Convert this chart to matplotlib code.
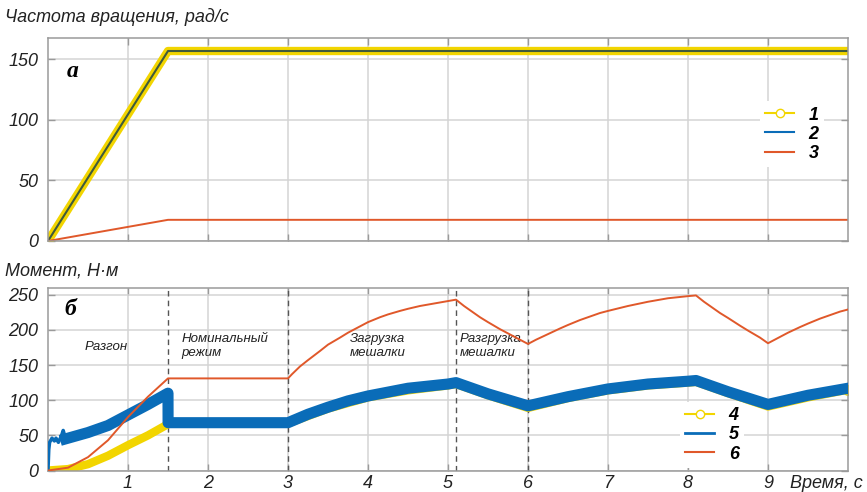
import numpy as np
import matplotlib
matplotlib.use('Agg')
import matplotlib.pyplot as plt
from matplotlib.lines import Line2D

plt.rcParams['font.family'] = ['Liberation Sans', 'DejaVu Sans']

# --- data ---
# top: speed, rad/s
t_speed = [0, 1.5, 10]
speed_1 = [0, 157, 157]
speed_2 = [0, 157, 157]
speed_3 = [0, 17.5, 17.5]

# bottom: torque, N*m
t_torque4 = [0, 0.25, 0.5, 0.75, 1.0, 1.25, 1.5, 1.501, 3.0, 3.5, 4.0, 4.5, 5.0, 5.1,
             5.5, 6.0, 6.5, 7.0, 7.5, 8.0, 8.1, 8.5, 9.0, 9.5, 10]
torque_4 = [0, 2, 9, 21, 36, 50, 66, 67, 67, 88, 104, 114, 121, 123,
            107, 89, 103, 114, 121, 125, 126, 110, 91, 104, 115]

t_torque5_start = [0, 0.01, 0.02, 0.05, 0.08, 0.1, 0.13, 0.17, 0.19, 0.22]
torque_5_start = [0, 30, 40, 46, 42, 46, 40, 50, 57, 45]
t_torque5 = [0.22, 0.5, 0.75, 1.0, 1.25, 1.5, 1.501, 2.0, 2.5, 3.0, 3.25, 3.5, 3.75, 4.0,
             4.5, 5.0, 5.1, 5.5, 6.0, 6.5, 7.0, 7.5, 8.0, 8.1, 8.5, 9.0, 9.5, 10]
torque_5 = [45, 54, 64, 79, 94, 110, 68, 68, 68, 68, 80, 90, 99, 106,
            117, 123, 125, 109, 92, 105, 116, 123, 127, 128, 112, 94, 107, 117]

t_torque6 = [0, 0.25, 0.5, 0.75, 1.0, 1.25, 1.5, 3.0, 3.05, 3.15, 3.25, 3.4, 3.5, 3.65,
             3.75, 3.9, 4.0, 4.15, 4.25, 4.4, 4.5, 4.65, 4.75, 4.9, 5.0, 5.1,
             5.2, 5.3, 5.4, 5.5, 5.65, 5.75, 5.9, 6.0,
             6.1, 6.25, 6.4, 6.5, 6.65, 6.75, 6.9, 7.0, 7.25, 7.5, 7.75, 8.0, 8.1,
             8.2, 8.3, 8.4, 8.5, 8.65, 8.75, 8.9, 9.0,
             9.1, 9.25, 9.4, 9.5, 9.65, 9.75, 9.9, 10]
torque_6 = [0, 4, 19, 43, 76, 105, 131, 131, 137, 148, 157, 170, 179, 189,
            196, 205, 211, 218, 222, 227, 230, 234, 236, 239, 241, 243,
            234, 226, 218, 211, 201, 195, 186, 180,
            186, 194, 202, 207, 214, 218, 224, 227, 234, 240, 245, 248, 249,
            240, 232, 224, 217, 206, 199, 189, 181,
            187, 196, 204, 209, 216, 220, 226, 229]

stage_bounds = [1.5, 3.0, 5.1, 6.0]
stage_names = ['Разгон', 'Номинальный\nрежим', 'Загрузка\nмешалки', 'Разгрузка\nмешалки']
stage_pos = [(0.46, 176), (1.67, 177), (3.77, 177), (5.15, 177)]

xticks = [1, 2, 3, 4, 5, 6, 7, 8, 9]

c_yel = '#f2d500'
c_blue = '#0a6cb8'
c_dark = '#3f5a3c'
c_org = '#e0582a'
c_grid = '#d4d4d4'
c_spine = '#9a9a9a'

fig = plt.figure(figsize=(8.67, 4.92), dpi=100)
ax1 = fig.add_axes([48/867, 1-241/492, 800/867, (241-37.7)/492])
ax2 = fig.add_axes([48/867, 1-470.5/492, 800/867, (470.5-287.7)/492])

for ax in (ax1, ax2):
    ax.set_xlim(0, 10)
    ax.set_xticks(xticks)
    ax.grid(True, color=c_grid, lw=1.1)
    ax.set_axisbelow(True)
    for s in ax.spines.values():
        s.set_color(c_spine)
        s.set_linewidth(1.1)
    ax.tick_params(direction='in', top=True, right=True, colors=c_spine,
                   labelcolor='#222222', labelsize=13, length=5, width=1)

# top chart
ax1.set_ylim(0, 168)
ax1.set_yticks([0, 50, 100, 150])
ax1.set_xticklabels([])
ax1.tick_params(axis='y', pad=7)
ax1.plot(t_speed, speed_1, color=c_yel, lw=6, solid_capstyle='round',
         marker='o', markevery=[0], ms=7, mfc=c_yel, mec=c_yel)
ax1.plot(t_speed, speed_2, color=c_dark, lw=1.5)
ax1.plot(t_speed, speed_3, color=c_org, lw=1.4)
for lab in ax1.get_yticklabels():
    lab.set_fontstyle('italic')

ax1.text(0.31, 140, 'а', family='Liberation Serif', fontsize=17, fontweight='bold',
         fontstyle='italic', va='center', ha='center')

h1 = [Line2D([], [], color=c_yel, lw=1.5, marker='o', ms=6, mfc='white', mec=c_yel, markevery=[1]),
      Line2D([], [], color=c_blue, lw=1.5),
      Line2D([], [], color=c_org, lw=1.5)]
leg1 = ax1.legend(h1, ['1', '2', '3'], loc='center', bbox_to_anchor=(0.93, 0.525),
                  frameon=True, facecolor='white', edgecolor='none', framealpha=1,
                  handlelength=1.6, labelspacing=0.12, handletextpad=0.8, borderpad=0.3,
                  prop={'size': 13, 'style': 'italic', 'weight': 'bold'})

# bottom chart
ax2.set_ylim(0, 260)
ax2.set_yticks([0, 50, 100, 150, 200, 250])
ax2.set_xticklabels([str(v) for v in xticks])
ax2.tick_params(axis='y', pad=7)
ax2.tick_params(axis='x', pad=3)
for lab in ax2.get_xticklabels() + ax2.get_yticklabels():
    lab.set_fontstyle('italic')

for xb in stage_bounds:
    ax2.axvline(xb, color='#555555', lw=1, ls=(0, (4, 3)), zorder=1.5)

ax2.plot(t_torque4, torque_4, color=c_yel, lw=6, solid_capstyle='round',
         marker='o', markevery=[-1], ms=7, mfc=c_yel, mec=c_yel, zorder=2)
ax2.plot(t_torque5_start, torque_5_start, color=c_blue, lw=2.5, zorder=3)
ax2.plot(t_torque5, torque_5, color=c_blue, lw=8, zorder=3)
ax2.plot(t_torque6, torque_6, color=c_org, lw=1.4, zorder=4)

for name, (x, y) in zip(stage_names, stage_pos):
    ax2.text(x, y, name, fontsize=9.5, fontstyle='italic', color='#222222',
             ha='left', va='center', linespacing=1.3)

ax2.text(0.28, 229, 'б', family='Liberation Serif', fontsize=17, fontweight='bold',
         fontstyle='italic', va='center', ha='center')

h2 = [Line2D([], [], color=c_yel, lw=1.5, marker='o', ms=6, mfc='white', mec=c_yel, markevery=[1]),
      Line2D([], [], color=c_blue, lw=2),
      Line2D([], [], color=c_org, lw=1.5)]
leg2 = ax2.legend(h2, ['4', '5', '6'], loc='center', bbox_to_anchor=(0.83, 0.195),
                  frameon=True, facecolor='white', edgecolor='none', framealpha=1,
                  handlelength=1.6, labelspacing=0.12, handletextpad=0.8, borderpad=0.3,
                  prop={'size': 13, 'style': 'italic', 'weight': 'bold'})
leg2.set_zorder(2.5)

fig.text(5/867, 1-17/492, 'Частота вращения, рад/с', fontsize=13, fontstyle='italic',
         color='#222222', va='center', ha='left')
fig.text(5/867, 1-271/492, 'Момент, Н·м', fontsize=13, fontstyle='italic',
         color='#222222', va='center', ha='left')
fig.text(790/867, 1-483/492, 'Время, с', fontsize=13, fontstyle='italic',
         color='#222222', va='center', ha='left')

fig.savefig('out.png', dpi=100)
